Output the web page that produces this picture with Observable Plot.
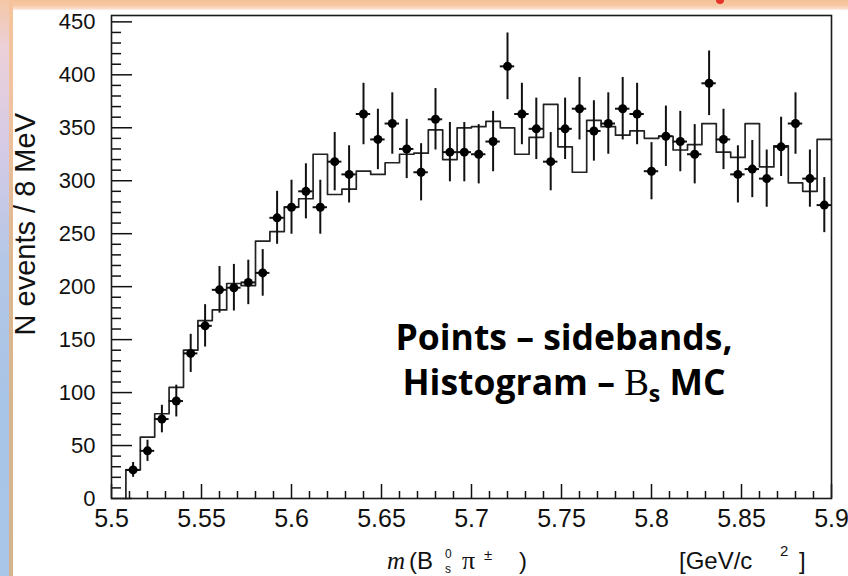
<!DOCTYPE html>
<html>
<head>
<meta charset="utf-8">
<script src="https://cdn.jsdelivr.net/npm/d3@7"></script>
<script src="https://cdn.jsdelivr.net/npm/@observablehq/plot@0.6"></script>
<style>
  html, body { margin: 0; padding: 0; background: #ffffff; }
  #page { position: relative; width: 848px; height: 576px; overflow: hidden; background: #ffffff; }
  #topband { position: absolute; left: 0; top: 0; width: 848px; height: 10px;
    background: linear-gradient(to bottom, #f4c196 0%, #f6c9a4 55%, #f9dccb 85%, #fdf0ea 100%); }
  #leftband { position: absolute; left: 0; top: 0; width: 9px; height: 576px;
    background: linear-gradient(to bottom, #f4c7a6 0%, #ecd0d8 8%, #d6cbe6 25%, #b5c7e6 45%, #a8c4e6 70%, #a9c6e8 100%); }
  #leftband2 { position: absolute; left: 9px; top: 0; width: 4px; height: 576px;
    background: linear-gradient(to bottom, #f5c49c 0%, #f0c29e 20%, #dcb791 45%, #d3b48f 100%); }
  #redmark { position: absolute; left: 716px; top: 0; width: 8px; height: 4px; background: #e5322a; border-radius: 0 0 4px 4px; }
  #chart { position: absolute; left: 0; top: 0; }
</style>
</head>
<body>
<div id="page">
  <div id="topband"></div>
  <div id="leftband"></div>
  <div id="leftband2"></div>
  <div id="redmark"></div>
  <div id="chart"></div>
</div>
<script>
// Bin centres of the 8 MeV bins [GeV/c^2]
const binCenters = [5.512, 5.520, 5.528, 5.536, 5.544, 5.552, 5.560, 5.568, 5.576, 5.584,
  5.592, 5.600, 5.608, 5.616, 5.624, 5.632, 5.640, 5.648, 5.656, 5.664,
  5.672, 5.680, 5.688, 5.696, 5.704, 5.712, 5.720, 5.728, 5.736, 5.744,
  5.752, 5.760, 5.768, 5.776, 5.784, 5.792, 5.800, 5.808, 5.816, 5.824,
  5.832, 5.840, 5.848, 5.856, 5.864, 5.872, 5.880, 5.888, 5.896];
const binHalfWidth = 0.004;

// Points: sidebands (N events / 8 MeV) and their errors
const sidebandValues = [27, 45, 75, 92, 137, 163, 197, 199, 204, 213,
  265, 275, 290, 275, 318, 306, 363, 339, 354, 330,
  308, 358, 327, 327, 325, 337, 408, 363, 349, 318,
  349, 368, 347, 354, 368, 363, 309, 342, 337, 325,
  392, 339, 306, 311, 302, 332, 354, 302, 277];
const sidebandErrors = [7, 10, 13, 15, 18, 20, 22, 22, 21, 22,
  25, 25.5, 26, 25.5, 27.5, 27, 29, 28.5, 29, 28,
  27, 29, 28, 28, 28, 28.5, 31.5, 29, 29, 27.5,
  29, 29.5, 28.5, 29, 29.5, 29, 27, 28.5, 28.5, 28,
  30.5, 28.5, 27, 27, 27, 28, 29, 27, 26];

// Histogram: Bs MC
const mcValues = [27, 58, 80, 105, 140, 168, 178, 203, 201, 243,
  252, 275, 283, 325, 287, 292, 309, 306, 317, 325,
  326, 348, 320, 350, 351, 356, 350, 325, 341, 372,
  332, 308, 357, 351, 343, 347, 340, 342, 329, 334,
  354, 327, 322, 354, 313, 333, 298, 290, 339];

// Axis ticks
const xMajorTicks = [5.5, 5.55, 5.6, 5.65, 5.7, 5.75, 5.8, 5.85, 5.9];
const xMinorTicks = [5.51, 5.52, 5.53, 5.54, 5.56, 5.57, 5.58, 5.59, 5.61, 5.62, 5.63, 5.64,
  5.66, 5.67, 5.68, 5.69, 5.71, 5.72, 5.73, 5.74, 5.76, 5.77, 5.78, 5.79,
  5.81, 5.82, 5.83, 5.84, 5.86, 5.87, 5.88, 5.89];
const yMajorTicks = [0, 50, 100, 150, 200, 250, 300, 350, 400, 450];
const yMinorTicks = [10, 20, 30, 40, 60, 70, 80, 90, 110, 120, 130, 140, 160, 170, 180, 190,
  210, 220, 230, 240, 260, 270, 280, 290, 310, 320, 330, 340, 360, 370, 380, 390,
  410, 420, 430, 440];

const points = binCenters.map((x, i) => ({x, y: sidebandValues[i], e: sidebandErrors[i]}));
const steps = [{x: binCenters[0] - binHalfWidth, y: 0}]
  .concat(binCenters.map((c, i) => ({x: c - binHalfWidth, y: mcValues[i]})))
  .concat([{x: binCenters[binCenters.length - 1] + binHalfWidth, y: mcValues[mcValues.length - 1]}]);

const ink = "#111";
const chart = Plot.plot({
  width: 848,
  height: 576,
  marginLeft: 111,
  marginRight: 17,
  marginTop: 15,
  marginBottom: 78,
  x: {domain: [5.5, 5.9]},
  y: {domain: [0, 456]},
  style: {background: "transparent", fontFamily: "'Liberation Sans', Arial, sans-serif", color: ink, overflow: "visible"},
  marks: [
    Plot.axisY(yMinorTicks, {tickSize: -10, tickFormat: () => "", label: null, strokeWidth: 1.5}),
    Plot.axisY(yMajorTicks, {tickSize: -21, tickPadding: 37, fontSize: 22, label: null, strokeWidth: 1.5, tickFormat: d => String(d)}),
    Plot.axisX(xMinorTicks, {tickSize: -7, tickFormat: () => "", label: null, strokeWidth: 1.5}),
    Plot.axisX(xMajorTicks, {tickSize: -14, tickPadding: 25, fontSize: 25, label: null, strokeWidth: 1.5, tickFormat: d => String(+d.toFixed(2))}),
    Plot.line(steps, {x: "x", y: "y", curve: "step-after", stroke: "#222", strokeWidth: 1.7}),
    Plot.ruleX(points, {x: "x", y1: d => d.y - d.e, y2: d => d.y + d.e, stroke: ink, strokeWidth: 2}),
    Plot.ruleY(points, {y: "y", x1: d => d.x - binHalfWidth, x2: d => d.x + binHalfWidth, stroke: ink, strokeWidth: 2}),
    Plot.dot(points, {x: "x", y: "y", r: 4.5, fill: "#000", stroke: "none"}),
    Plot.frame({stroke: "#1a1a1a", strokeWidth: 1.6})
  ]
});
document.getElementById("chart").appendChild(chart);

// Titles and annotation
const svg = d3.select(chart);
const sans = "'Liberation Sans', Arial, sans-serif";
const serif = "'Liberation Serif', 'Times New Roman', serif";

// y title
svg.append("text")
  .attr("transform", "translate(35,113) rotate(-90)")
  .attr("text-anchor", "end")
  .attr("font-family", sans).attr("font-size", 29).attr("fill", ink)
  .text("N events / 8 MeV");

// x title
const xt = svg.append("g").attr("fill", ink).attr("font-family", sans).attr("text-anchor", "start");
xt.append("text").attr("x", 387).attr("y", 569).attr("font-family", serif).attr("font-style", "italic").attr("font-size", 25).text("m");
xt.append("text").attr("x", 409).attr("y", 569).attr("font-size", 24).text("(B");
xt.append("text").attr("x", 445).attr("y", 558).attr("font-size", 12).text("0");
xt.append("text").attr("x", 445).attr("y", 573).attr("font-size", 12).text("s");
xt.append("text").attr("x", 462).attr("y", 569).attr("font-family", serif).attr("font-size", 26).text("π");
xt.append("text").attr("x", 484).attr("y", 560).attr("font-size", 15).text("±");
xt.append("text").attr("x", 519).attr("y", 569).attr("font-size", 24).text(")");
xt.append("text").attr("x", 679).attr("y", 569).attr("font-size", 24).text("[GeV/c");
xt.append("text").attr("x", 780).attr("y", 556).attr("font-size", 15).text("2");
xt.append("text").attr("x", 799).attr("y", 569).attr("font-size", 24).text("]");

// annotation
const ann = svg.append("g").attr("fill", "#000").attr("font-family", "'Open Sans', Lato, sans-serif").attr("font-weight", 700).attr("font-size", 35.5).attr("text-anchor", "middle");
ann.append("text").attr("x", 564).attr("y", 350).text("Points – sidebands,");
const l2 = ann.append("text").attr("x", 564).attr("y", 395);
l2.append("tspan").text("Histogram – ");
l2.append("tspan").attr("font-family", serif).attr("font-weight", 400).attr("font-size", 37).text("B");
l2.append("tspan").attr("font-size", 23).attr("dy", 7).text("s");
l2.append("tspan").attr("dy", -7).text(" MC");
</script>
</body>
</html>
